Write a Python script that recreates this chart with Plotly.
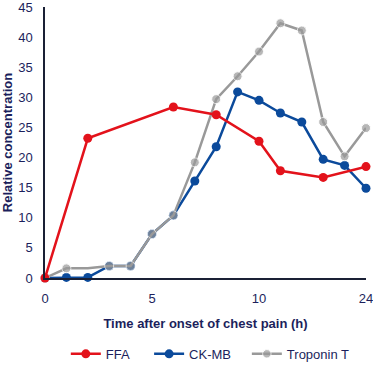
import plotly.graph_objects as go

x_tick_vals = [0, 5, 10, 15]
x_tick_text = ["0", "5", "10", "24"]

ffa_x = [0, 2, 6, 8, 10, 11, 13, 15]
ffa_y = [0, 23.2, 28.4, 27.1, 22.7, 17.8, 16.7, 18.5]

ckmb_x = [0, 1, 2, 3, 4, 5, 6, 7, 8, 9, 10, 11, 12, 13, 14, 15]
ckmb_y = [0, 0.1, 0.1, 2.0, 2.0, 7.3, 10.4, 16.1, 21.8, 30.9, 29.5, 27.4, 25.9, 19.7, 18.7, 14.9]

tnt_x = [0, 1, 2, 3, 4, 5, 6, 7, 8, 9, 10, 11, 12, 13, 14, 15]
tnt_y = [0, 1.6, 1.6, 2.0, 2.0, 7.3, 10.4, 19.2, 29.7, 33.5, 37.6, 42.3, 41.1, 25.9, 20.2, 24.9]
tnt_marker = [9, 9, 0, 9, 9, 9, 9, 9, 9, 9, 9, 9, 9, 9, 9, 9]

pad = "\u00a0"
navy = "#1c1f5c"
fig = go.Figure()
fig.add_trace(go.Scatter(x=ckmb_x, y=ckmb_y, name="CK-MB" + pad * 3, mode="lines+markers",
                         line=dict(color="#0b4a9b", width=2.5), marker=dict(size=9, color="#0b4a9b"),
                         cliponaxis=False, legendrank=2))
fig.add_trace(go.Scatter(x=tnt_x, y=tnt_y, name="Troponin T", mode="lines+markers",
                         line=dict(color="#999999", width=2.5), marker=dict(size=tnt_marker, color="#999999"),
                         cliponaxis=False, legendrank=3))
fig.add_trace(go.Scatter(x=ffa_x, y=ffa_y, name="FFA" + pad * 4, mode="lines+markers",
                         line=dict(color="#e3121b", width=2.5), marker=dict(size=9, color="#e3121b"),
                         cliponaxis=False, legendrank=1))

fig.update_layout(
    width=373, height=366,
    margin=dict(l=45, r=7, t=7, b=88, autoexpand=False),
    plot_bgcolor="white", paper_bgcolor="white",
    font=dict(family="Liberation Sans, Arial, sans-serif", color=navy, size=13),
    showlegend=True,
    legend=dict(orientation="h", x=0.515, xanchor="center", y=-0.28, yanchor="middle",
                font=dict(size=13, color=navy), itemwidth=30, tracegroupgap=0),
)
fig.update_xaxes(range=[0, 15], tickvals=x_tick_vals, ticktext=x_tick_text, automargin=False,
                 showline=True, linecolor="#1a2035", linewidth=1.5, showgrid=False, zeroline=False,
                 ticks="", ticklabelstandoff=8, ticklabeloverflow="allow",
                 title=dict(text="<b>Time after onset of chest pain (h)</b>", standoff=14,
                            font=dict(size=13, color=navy)))
fig.update_yaxes(range=[0, 45], dtick=5, automargin=False, showline=True, linecolor="#1a2035",
                 linewidth=1.5, showgrid=False, zeroline=False, ticks="", ticklabelstandoff=8,
                 ticklabeloverflow="allow",
                 title=dict(text="<b>Relative concentration</b>", standoff=6,
                            font=dict(size=13, color=navy)))

fig.write_html("out.html", config={"displayModeBar": False},
               post_script="document.body.style.margin='0';")
